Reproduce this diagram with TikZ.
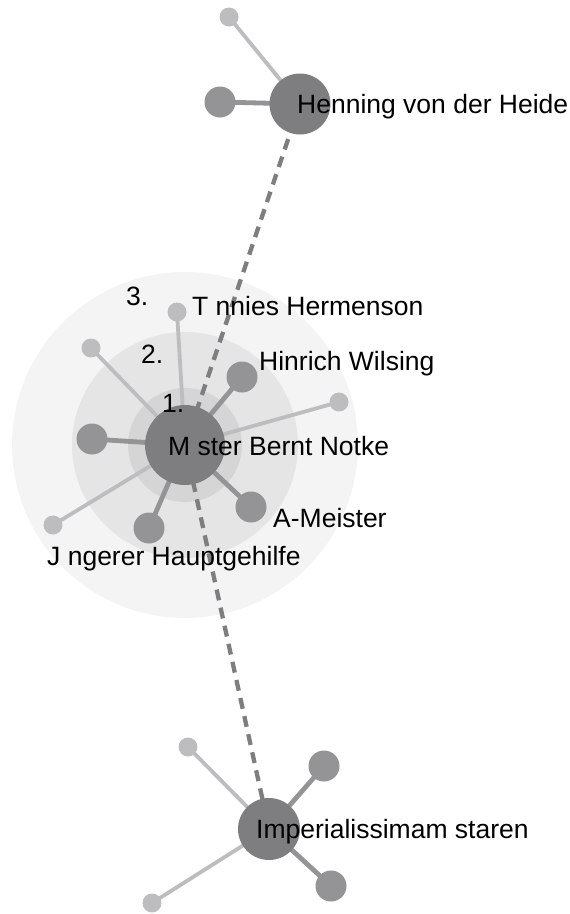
\documentclass[tikz,border=0pt]{standalone}
\usepackage{fontspec}
\setmainfont{Liberation Sans}
\definecolor{hubc}{HTML}{7E7E81}
\definecolor{midc}{HTML}{949497}
\definecolor{litec}{HTML}{BDBDC0}
\definecolor{ringa}{HTML}{F4F4F4}
\definecolor{ringb}{HTML}{E5E5E5}
\definecolor{ringc}{HTML}{D5D5D5}
\tikzset{
  dot/.style={circle, inner sep=0pt, draw=none},
  hubdot/.style={dot, fill=hubc},
  middot/.style={dot, fill=midc, minimum size=31pt},
  litedot/.style={dot, fill=litec, minimum size=19pt},
  ringdisc/.style={dot},
  liteedge/.style={draw=litec, line width=3.8pt},
  midedge/.style={draw=midc, line width=4.8pt},
  tieedge/.style={draw=hubc, line width=4.3pt, dash pattern=on 11pt off 7.5pt},
  lbl/.style={anchor=base west, inner sep=0pt, text=black, font=\fontsize{26.5}{31}\selectfont},
}
\begin{document}
\begin{tikzpicture}[x=1pt, y=-1pt]
\useasboundingbox (0,0) rectangle (570,914);
% rings
\node[ringdisc, fill=ringa, minimum size=346pt] (ring3) at (185,445) {};
\node[ringdisc, fill=ringb, minimum size=226pt] (ring2) at (185,445) {};
\node[ringdisc, fill=ringc, minimum size=114pt] (ring1) at (185,445) {};
% coordinates of nodes
\coordinate (notkeC) at (185,445);
\coordinate (henC) at (300,104);
\coordinate (impC) at (269,829);
% Henning satellites
\coordinate (h1C) at (229,17);
\coordinate (h2C) at (220,102);
% Notke satellites
\coordinate (tonC) at (177,312);
\coordinate (tlC) at (91,348);
\coordinate (wilC) at (242,377);
\coordinate (rC) at (339,402);
\coordinate (lC) at (92,439);
\coordinate (blC) at (53,525);
\coordinate (jungC) at (149,528);
\coordinate (ameC) at (251,507);
% Imperialissimam satellites
\coordinate (i1C) at (188,747);
\coordinate (i2C) at (324,766);
\coordinate (i3C) at (331,886);
\coordinate (i4C) at (152,903);
% edges
\draw[liteedge] (henC) -- (h1C);
\draw[midedge] (henC) -- (h2C);
\draw[liteedge] (notkeC) -- (tonC);
\draw[liteedge] (notkeC) -- (tlC);
\draw[midedge] (notkeC) -- (wilC);
\draw[liteedge] (notkeC) -- (rC);
\draw[midedge] (notkeC) -- (lC);
\draw[liteedge] (notkeC) -- (blC);
\draw[midedge] (notkeC) -- (jungC);
\draw[midedge] (notkeC) -- (ameC);
\draw[liteedge] (impC) -- (i1C);
\draw[midedge] (impC) -- (i2C);
\draw[midedge] (impC) -- (i3C);
\draw[liteedge] (impC) -- (i4C);
\draw[tieedge] (henC) -- (notkeC);
\draw[tieedge] (notkeC) -- (impC);
% dots
\node[hubdot, minimum size=80pt] (notke) at (notkeC) {};
\node[hubdot, minimum size=61pt] (hen) at (henC) {};
\node[hubdot, minimum size=62pt] (imp) at (impC) {};
\node[litedot] (h1) at (h1C) {};
\node[middot] (h2) at (h2C) {};
\node[litedot] (ton) at (tonC) {};
\node[litedot] (tl) at (tlC) {};
\node[middot] (wil) at (wilC) {};
\node[litedot] (r) at (rC) {};
\node[middot] (l) at (lC) {};
\node[litedot] (bl) at (blC) {};
\node[middot] (jung) at (jungC) {};
\node[middot] (ame) at (ameC) {};
\node[litedot] (i1) at (i1C) {};
\node[middot] (i2) at (i2C) {};
\node[middot] (i3) at (i3C) {};
\node[litedot] (i4) at (i4C) {};
% labels
\node[lbl] (henlbl) at (297,113) {Henning von der Heide};
\node[lbl] (tonlbl) at (192,315) {T nnies Hermenson};
\node[lbl] (willbl) at (259,370) {Hinrich Wilsing};
\node[lbl] (notkelbl) at (168,455) {M ster Bernt Notke};
\node[lbl] (amelbl) at (273,527) {A-Meister};
\node[lbl] (junglbl) at (47,565) {J ngerer Hauptgehilfe};
\node[lbl] (implbl) at (256,838) {Imperialissimam staren};
\node[lbl] (one) at (162,412) {1.};
\node[lbl] (two) at (141,363) {2.};
\node[lbl] (three) at (126,305) {3.};
\end{tikzpicture}
\end{document}
